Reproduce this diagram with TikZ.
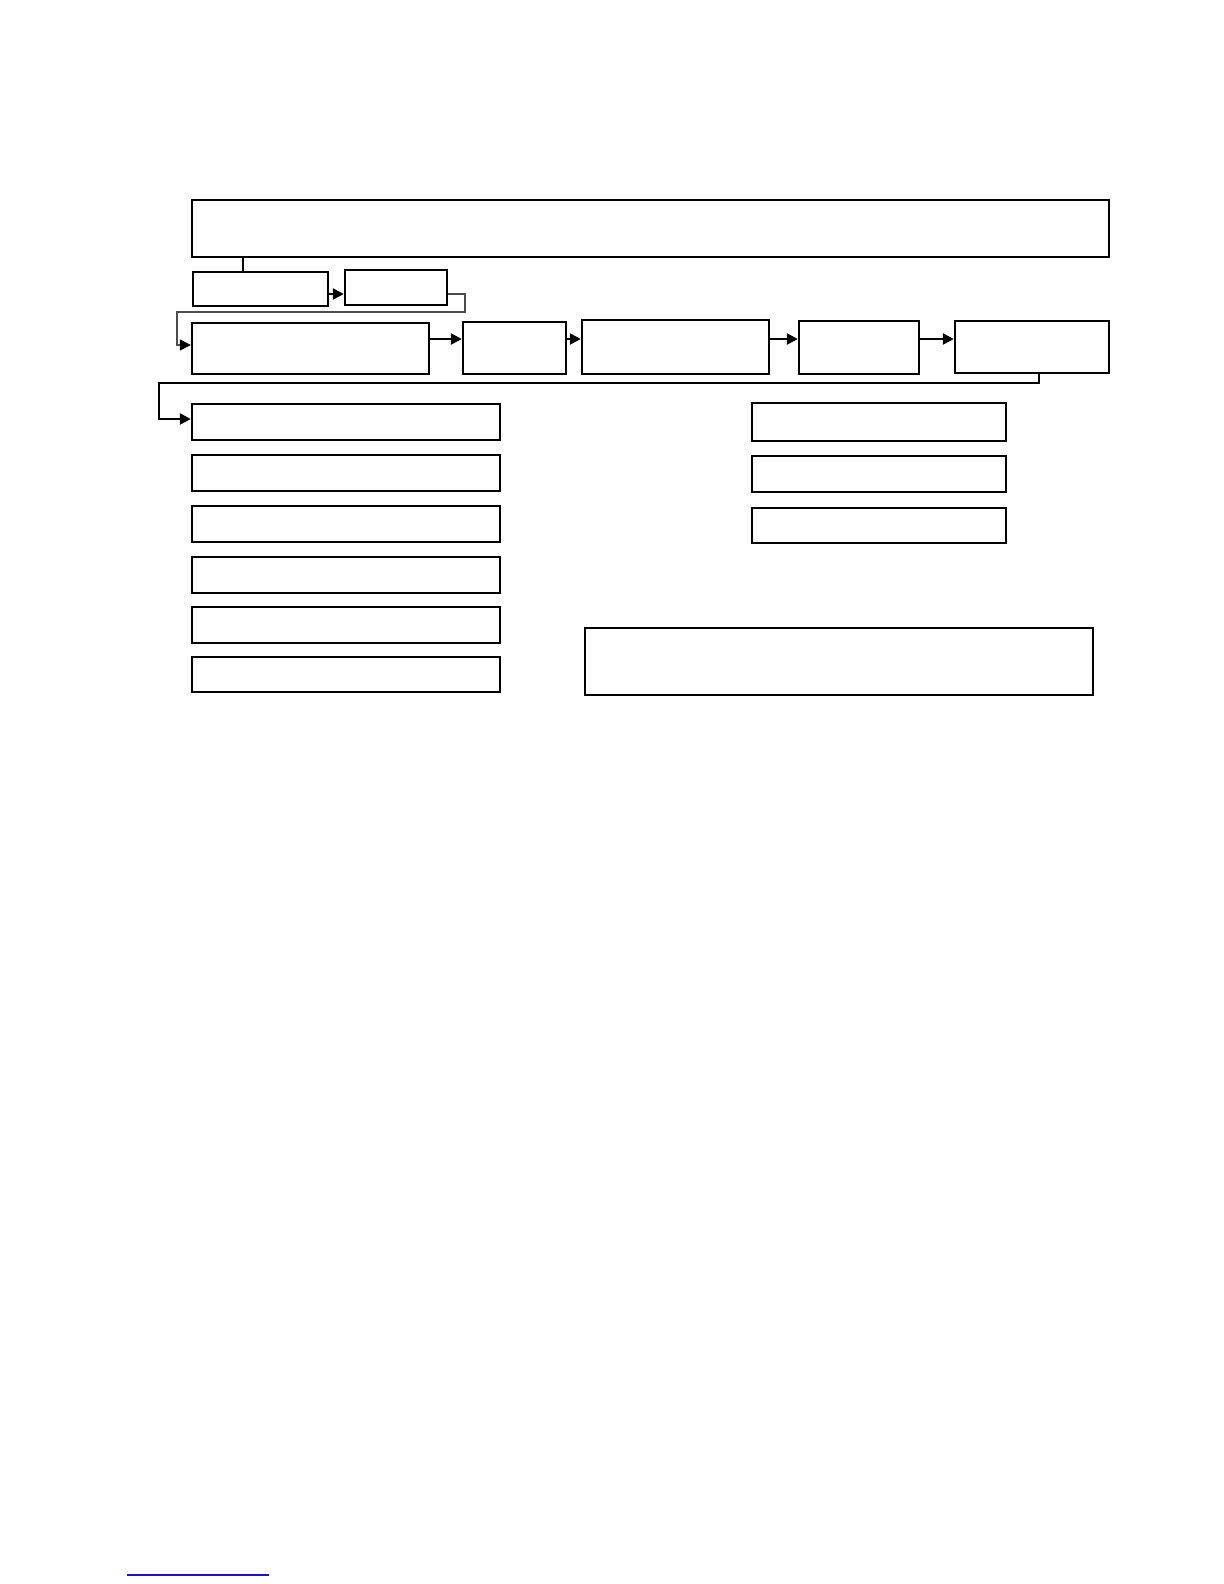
\documentclass[tikz,border=0pt]{standalone}
\usetikzlibrary{fit,arrows.meta}
\definecolor{linkblue}{RGB}{20,20,200}
\tikzset{
  box/.style={draw=black, line width=1.2pt, rectangle, inner sep=0pt, fill=white},
  arr/.style={draw=black, line width=1.2pt, -{Triangle[length=5.5pt,width=5.5pt]}},
  thinarr/.style={draw=black!70, line width=0.7pt, -{Triangle[length=5.5pt,width=5.5pt,color=black,fill=black]}},
  plainline/.style={draw=black, line width=1.2pt}
}
\begin{document}
\begin{tikzpicture}[x=0.5pt,y=-0.5pt]
\useasboundingbox (0,0) rectangle (1224,1584);
% boxes
\node[box, fit={(192,200)(1109,257)}] (top) {};
\node[box, fit={(193,272)(328,306)}] (A) {};
\node[box, fit={(345,270)(447,305)}] (B) {};
\node[box, fit={(192,323)(429,374)}] (C) {};
\node[box, fit={(463,322)(566,374)}] (D) {};
\node[box, fit={(582,320)(769,374)}] (E) {};
\node[box, fit={(799,321)(919,374)}] (F) {};
\node[box, fit={(955,321)(1109,373)}] (G) {};
\node[box, fit={(192,404)(500,440)}] (L1) {};
\node[box, fit={(192,455)(500,491)}] (L2) {};
\node[box, fit={(192,506)(500,542)}] (L3) {};
\node[box, fit={(192,557)(500,593)}] (L4) {};
\node[box, fit={(192,607)(500,643)}] (L5) {};
\node[box, fit={(192,657)(500,692)}] (L6) {};
\node[box, fit={(752,403)(1006,441)}] (R1) {};
\node[box, fit={(752,456)(1006,492)}] (R2) {};
\node[box, fit={(752,508)(1006,543)}] (R3) {};
\node[box, fit={(585,628)(1093,695)}] (Bot) {};
% helper coordinates
\coordinate (c1) at (243,0);
\coordinate (yab) at (0,294);
\coordinate (bx) at (465,312);
\coordinate (cx) at (177,345);
\coordinate (yrow) at (0,339);
\coordinate (gx) at (1039,383);
\coordinate (lx) at (159,419);
% connectors
\draw[plainline] (top.south -| c1) -- (A.north -| c1);
\draw[arr] (A.east |- yab) -- (B.west |- yab);
\draw[thinarr] (B.east |- yab) -| (bx) -| (cx) -- (C.west |- cx);
\draw[arr] (C.east |- yrow) -- (D.west |- yrow);
\draw[arr] (D.east |- yrow) -- (E.west |- yrow);
\draw[arr] (E.east |- yrow) -- (F.west |- yrow);
\draw[arr] (F.east |- yrow) -- (G.west |- yrow);
\draw[arr] (G.south -| gx) -- (gx) -| (lx) -- (L1.west |- lx);
% footnote rule
\draw[linkblue, line width=0.9pt] (127,1575) -- (269,1575);
\end{tikzpicture}
\end{document}
